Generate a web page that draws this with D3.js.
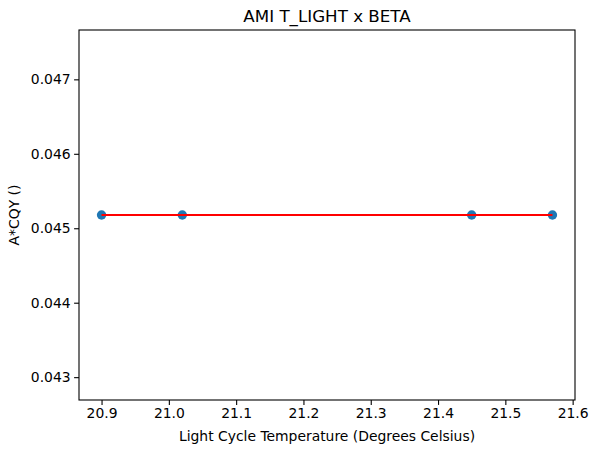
<!DOCTYPE html>
<html>
<head>
<meta charset="utf-8">
<script src="https://cdn.jsdelivr.net/npm/d3@7"></script>
<style>
  body { margin: 0; background: #fff; }
  svg { display: block; font-family: "DejaVu Sans", sans-serif; }
</style>
</head>
<body>
<svg id="chart" width="598" height="453"></svg>
<script>
// Data
const temperatures = [20.9, 21.02, 21.45, 21.57];
const acqyValues = [0.045178, 0.045178, 0.045178, 0.045178];
const fitLineX = [20.9, 21.57];
const fitLineY = [0.045178, 0.045178];
const xTickValues = [20.9, 21.0, 21.1, 21.2, 21.3, 21.4, 21.5, 21.6];
const yTickValues = [0.043, 0.044, 0.045, 0.046, 0.047];
const titleText = "AMI T_LIGHT x BETA";
const xLabelText = "Light Cycle Temperature (Degrees Celsius)";
const yLabelText = "A*CQY ()";

(function () {
const svg = d3.select("#chart");
const mLeft = 79, mRight = 575, mTop = 30, mBottom = 400;

// matplotlib-like limits: 5% margins; singular y expanded by 5% of value
const xmin = d3.min(temperatures), xmax = d3.max(temperatures);
const xm = (xmax - xmin) * 0.05;
const yv = acqyValues[0];
let y0 = d3.min(acqyValues), y1 = d3.max(acqyValues);
if (y1 - y0 < 1e-12) { y0 = yv - Math.abs(yv) * 0.05; y1 = yv + Math.abs(yv) * 0.05; }
const ym = (y1 - y0) * 0.05;

const x = d3.scaleLinear().domain([xmin - xm, xmax + xm]).range([mLeft, mRight]);
const y = d3.scaleLinear().domain([y0 - ym, y1 + ym]).range([mBottom, mTop]);

const xAxis = d3.axisBottom(x).tickValues(xTickValues).tickFormat(d3.format(".1f"))
  .tickSizeInner(4.9).tickSizeOuter(0).tickPadding(3.5);
const yAxis = d3.axisLeft(y).tickValues(yTickValues).tickFormat(d3.format(".3f"))
  .tickSizeInner(4.9).tickSizeOuter(0).tickPadding(3.5);

const gx = svg.append("g").attr("transform", `translate(0,${mBottom})`).call(xAxis);
const gy = svg.append("g").attr("transform", `translate(${mLeft},0)`).call(yAxis);
[gx, gy].forEach(g => {
  g.select(".domain").remove();
  g.selectAll("text").attr("font-size", 13.9).attr("fill", "#000")
   .attr("font-family", "DejaVu Sans, sans-serif");
  g.selectAll("line").attr("stroke", "#000").attr("stroke-width", 1.1);
});

// Points
svg.append("g").selectAll("circle").data(temperatures).join("circle")
  .attr("cx", (d) => x(d))
  .attr("cy", (d, i) => y(acqyValues[i]))
  .attr("r", 4.7)
  .attr("fill", "#1f77b4");

// Red line
const line = d3.line().x(d => x(d[0])).y(d => y(d[1]));
svg.append("path")
  .datum(fitLineX.map((v, i) => [v, fitLineY[i]]))
  .attr("d", line)
  .attr("fill", "none")
  .attr("stroke", "#ff0000")
  .attr("stroke-width", 2.1);

// Frame
svg.append("rect")
  .attr("x", mLeft).attr("y", mTop)
  .attr("width", mRight - mLeft).attr("height", mBottom - mTop)
  .attr("fill", "none").attr("stroke", "#000").attr("stroke-width", 1.1);

// Title
svg.append("text")
  .attr("x", (mLeft + mRight) / 2).attr("y", mTop - 8.3)
  .attr("text-anchor", "middle").attr("font-size", 16.7).attr("fill", "#000")
  .text(titleText);

// Axis labels
svg.append("text")
  .attr("x", (mLeft + mRight) / 2).attr("y", 441)
  .attr("text-anchor", "middle").attr("font-size", 13.9).attr("fill", "#000")
  .text(xLabelText);

svg.append("text")
  .attr("transform", `translate(19,${(mTop + mBottom) / 2}) rotate(-90)`)
  .attr("text-anchor", "middle").attr("font-size", 13.9).attr("fill", "#000")
  .text(yLabelText);
})();
</script>
</body>
</html>
